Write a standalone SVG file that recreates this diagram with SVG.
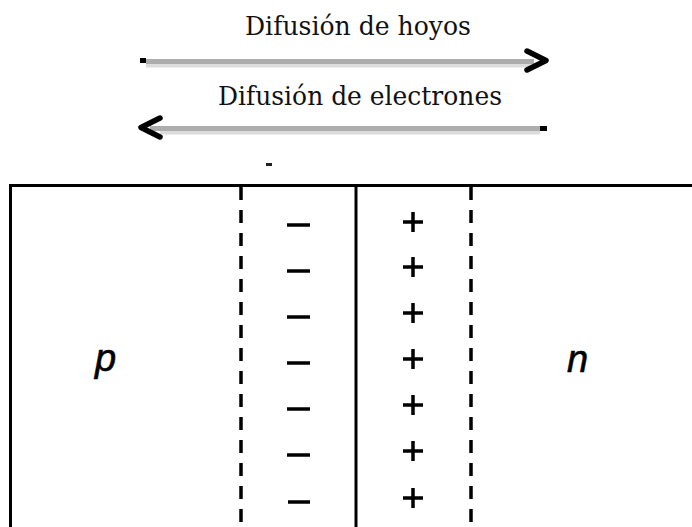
<svg xmlns="http://www.w3.org/2000/svg" width="692" height="527" viewBox="0 0 692 527">
<style>
.lbl{font-family:"DejaVu Serif","Liberation Serif",serif;font-size:26px;fill:#111}
.reg{font-family:"Liberation Sans",Arial,sans-serif;font-style:italic;font-size:38px;fill:#000;stroke:#000;stroke-width:0.6}
.solid{stroke:#000;stroke-width:3;fill:none}
.dash{stroke:#000;stroke-width:3.5;stroke-dasharray:13 10;fill:none}
.shaft{stroke:#adadad;stroke-width:5}
.shadow{stroke:#dcdcdc;stroke-width:4}
.head{stroke:#000;stroke-width:5.5;fill:none;stroke-linecap:round;stroke-linejoin:round}
.sign{stroke:#000;stroke-width:3.5}
</style>
<rect width="692" height="527" fill="#fff"/>
<g id="labels">
<text class="lbl" x="245" y="35" textLength="226" lengthAdjust="spacingAndGlyphs">Difusión de hoyos</text>
<text class="lbl" x="218" y="105" textLength="284" lengthAdjust="spacingAndGlyphs">Difusión de electrones</text>
</g>
<g id="connectors">
<g id="hole-arrow">
<line class="shadow" x1="146" y1="65.5" x2="532" y2="65.5"/>
<line class="shaft" x1="146" y1="61.5" x2="534" y2="61.5"/>
<rect x="140" y="58" width="6" height="5" fill="#000"/>
<polyline class="head" points="527,51 546,60.5 527,70"/>
</g>
<g id="electron-arrow">
<line class="shadow" x1="160" y1="132.5" x2="540" y2="132.5"/>
<line class="shaft" x1="150" y1="128.5" x2="541" y2="128.5"/>
<rect x="540" y="126" width="7" height="5" fill="#000"/>
<polyline class="head" points="160,118 141,127.5 160,137"/>
</g>
</g>
<rect x="266" y="163" width="6" height="3" fill="#222"/>
<g id="junction">
<path class="solid" d="M10.5,527 V185.5 H692"/>
<line class="solid" x1="356" y1="185" x2="356" y2="527"/>
<line class="dash" x1="241" y1="187" x2="241" y2="527"/>
<line class="dash" x1="471" y1="187" x2="471" y2="527"/>
</g>
<g id="p-region"><text class="reg" x="95" y="371">p</text></g>
<g id="n-region"><text class="reg" x="567" y="372">n</text></g>
<g id="negative-charges">
<line class="sign" x1="287" y1="225" x2="310" y2="225"/>
<line class="sign" x1="287" y1="271" x2="310" y2="271"/>
<line class="sign" x1="287" y1="317" x2="310" y2="317"/>
<line class="sign" x1="287" y1="363" x2="310" y2="363"/>
<line class="sign" x1="287" y1="409" x2="310" y2="409"/>
<line class="sign" x1="287" y1="455" x2="310" y2="455"/>
<line class="sign" x1="288" y1="502" x2="310" y2="502"/>
</g>
<g id="positive-charges">
<path class="sign" d="M403,222 H423 M413,212 V232"/>
<path class="sign" d="M403,267 H423 M413,257 V277"/>
<path class="sign" d="M403,313 H423 M413,303 V323"/>
<path class="sign" d="M403,359 H423 M413,349 V369"/>
<path class="sign" d="M403,405 H423 M413,395 V415"/>
<path class="sign" d="M403,451 H423 M413,441 V461"/>
<path class="sign" d="M403,498 H423 M413,488 V508"/>
</g>
</svg>
